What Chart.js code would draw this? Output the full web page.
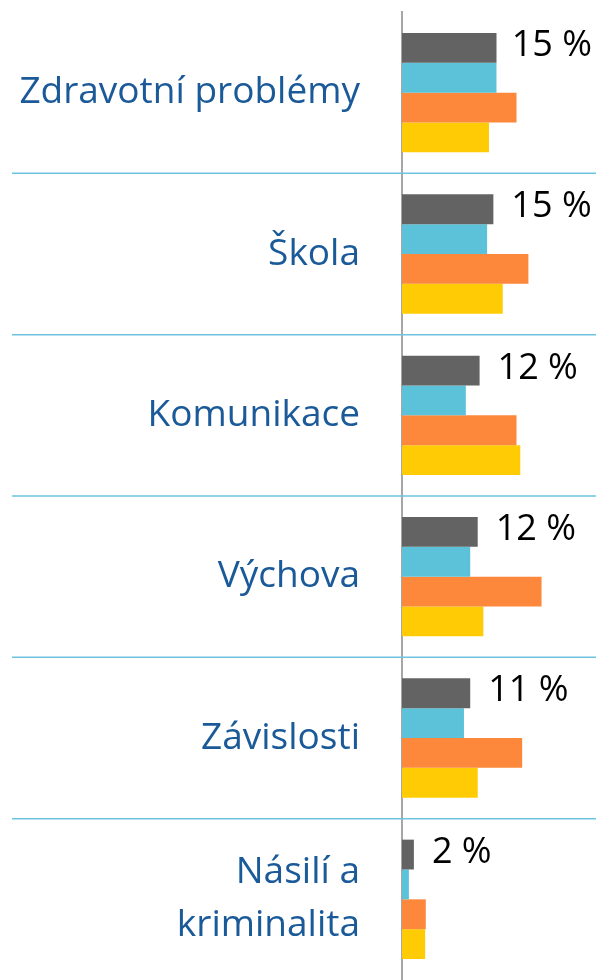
<!DOCTYPE html>
<html>
<head>
<meta charset="utf-8">
<script src="https://cdn.jsdelivr.net/npm/chart.js@4"></script>
<style>
  html, body { margin: 0; padding: 0; background: #fff; }
  #wrap { width: 596px; height: 980px; }
</style>
</head>
<body>
<div id="wrap"><canvas id="chart" width="596" height="980"></canvas></div>
<script>
// ============================
// DATA
// ============================
const categories = [
  "Zdravotní problémy",
  "Škola",
  "Komunikace",
  "Výchova",
  "Závislosti",
  ["Násilí a", "kriminalita"]
];
const seriesNames = ["Řada 1", "Řada 2", "Řada 3", "Řada 4"];
const series1 = [15.1, 14.6, 12.4, 12.1, 10.9, 1.9];   // gray, labelled
const series2 = [15.1, 13.6, 10.2, 10.9, 9.9, 1.1];    // light blue
const series3 = [18.3, 20.2, 18.3, 22.3, 19.2, 3.8];   // orange
const series4 = [13.9, 16.1, 18.9, 13.0, 12.1, 3.7];   // yellow
const xMax = 31;

const colors = ["#636363", "#5BC2D9", "#FD883B", "#FFCB05"];
const FONT = "'Open Sans', 'Noto Sans', sans-serif";

// ============================
// PLUGINS
// ============================
// light blue separators between categories, across the whole width
const separators = {
  id: "separators",
  beforeDatasetsDraw(chart){
    const y = chart.scales.y;
    const ctx = chart.ctx;
    ctx.save();
    ctx.strokeStyle = "#6EC3DF";
    ctx.lineWidth = 1.5;
    for(let i = 1; i < categories.length; i++){
      const py = (y.getPixelForValue(i - 1) + y.getPixelForValue(i)) / 2;
      ctx.beginPath();
      ctx.moveTo(12, py);
      ctx.lineTo(chart.chartArea.right, py);
      ctx.stroke();
    }
    ctx.restore();
  }
};

// "15 %" labels for the first (gray) series
const valueLabels = {
  id: "valueLabels",
  afterDatasetsDraw(chart){
    const ctx = chart.ctx;
    const meta = chart.getDatasetMeta(0);
    ctx.save();
    ctx.font = "36px " + FONT;
    ctx.fillStyle = "#000";
    ctx.textAlign = "left";
    ctx.textBaseline = "middle";
    meta.data.forEach((bar, i) => {
      const txt = Math.round(series1[i]) + " %";
      const w = ctx.measureText(txt).width;
      let x = bar.x + 18;
      if(x + w > chart.width - 4) x = chart.width - 4 - w;
      ctx.fillText(txt, x, bar.y - 2);
    });
    ctx.restore();
  }
};

// ============================
// CHART
// ============================
const datasets = [series1, series2, series3, series4].map((d, i) => ({
  label: seriesNames[i],
  data: d,
  backgroundColor: colors[i],
  borderWidth: 0,
  categoryPercentage: 0.74,
  barPercentage: 1.0
}));

new Chart(document.getElementById("chart").getContext("2d"), {
  type: "bar",
  data: { labels: categories, datasets: datasets },
  options: {
    indexAxis: "y",
    responsive: false,
    animation: false,
    devicePixelRatio: 1,
    layout: { padding: { top: 12, right: 0, bottom: 0, left: 0 } },
    plugins: {
      legend: { display: false },
      tooltip: { enabled: false }
    },
    scales: {
      x: {
        display: false,
        min: 0,
        max: xMax
      },
      y: {
        grid: { display: false, drawTicks: false },
        border: { display: true, color: "#A6A6A6", width: 2 },
        ticks: {
          color: "#1B5A98",
          font: { family: FONT, size: 37, lineHeight: 1.43 },
          padding: 42
        },
        afterFit(scale){
          scale.width = 402;
          scale.paddingTop = 0;
          scale.paddingBottom = 0;
        }
      }
    }
  },
  plugins: [separators, valueLabels]
});
</script>
</body>
</html>
